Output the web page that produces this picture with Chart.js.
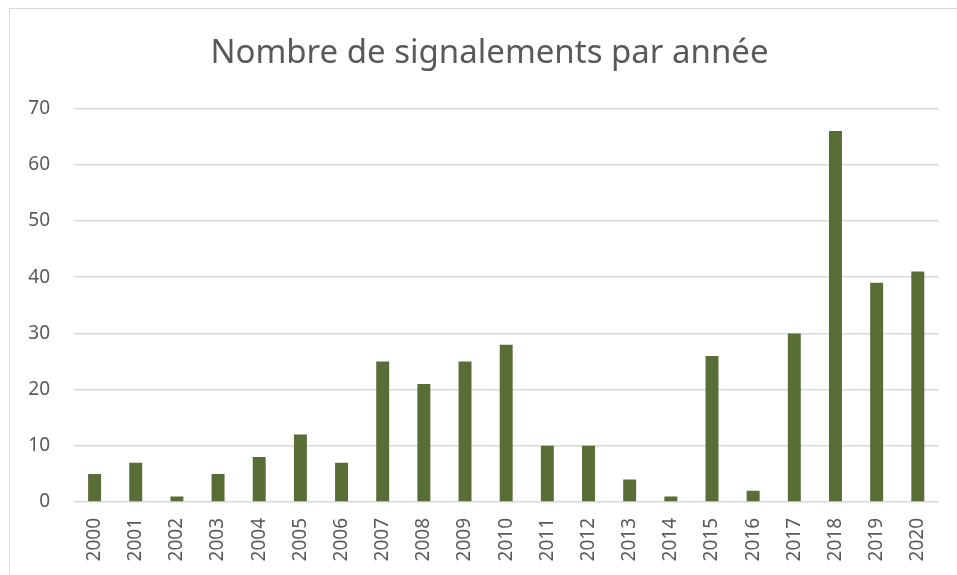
<!DOCTYPE html>
<html><head><meta charset="utf-8">
<script src="https://cdn.jsdelivr.net/npm/chart.js@4"></script>
<style>
html,body{margin:0;padding:0;background:#fff;}
#wrap{position:absolute;left:0;top:0;width:957px;height:575px;}
</style></head>
<body><div id="wrap"><canvas id="c" width="957" height="575"></canvas></div>
<script>
const categories = ['2000','2001','2002','2003','2004','2005','2006','2007','2008','2009','2010','2011','2012','2013','2014','2015','2016','2017','2018','2019','2020'];
const values = [5,7,1,5,8,12,7,25,21,25,28,10,10,4,1,26,2,30,66,39,41];
const yTicks = [0,10,20,30,40,50,60,70];
const title = 'Nombre de signalements par année';

const borderPlugin = {
  id:'frame',
  beforeDraw(chart){
    const ctx = chart.ctx;
    ctx.save();
    ctx.fillStyle='#fff';
    ctx.fillRect(0,0,chart.width,chart.height);
    ctx.strokeStyle='#d9d9d9';
    ctx.lineWidth=1;
    ctx.strokeRect(9.5,8.5,chart.width+20,chart.height+20);
    ctx.restore();
  }
};
const FONT = "'Noto Sans', 'Open Sans', sans-serif";
new Chart(document.getElementById('c'), {
  type:'bar',
  data:{labels:categories, datasets:[{data:values, backgroundColor:'#596E36', borderWidth:0, categoryPercentage:1, barPercentage:0.315}]},
  options:{
    responsive:false, animation:false,
    layout:{padding:{left:24,right:2,top:0,bottom:0}},
    plugins:{
      legend:{display:false}, tooltip:{enabled:false},
      title:{display:true, text:title, color:'#595959', font:{family:FONT, size:33, weight:'normal', lineHeight:1.2}, padding:{top:34,bottom:35}}
    },
    scales:{
      x:{grid:{display:false, drawTicks:false}, border:{display:false},
         afterFit(s){ s.height = 73; },
         ticks:{color:'#595959', font:{family:FONT,size:19}, maxRotation:90, minRotation:90, padding:16, autoSkip:false}},
      y:{min:0,max:70, afterBuildTicks(s){s.ticks = yTicks.map(v=>({value:v}));},
         afterFit(s){ s.width = 50; },
         grid:{color:'#d9d9d9', lineWidth:1.5, drawTicks:false}, border:{display:false},
         ticks:{color:'#595959', font:{family:FONT,size:19}, padding:24}},
      yPad:{position:'right', display:true, grid:{display:false}, border:{display:false},
         ticks:{display:false}, afterFit(s){ s.width = 15; }}
    }
  },
  plugins:[borderPlugin]
});
</script></body></html>
